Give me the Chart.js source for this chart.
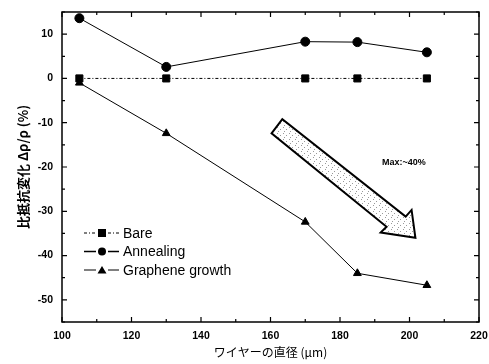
<!DOCTYPE html>
<html>
<head>
<meta charset="utf-8">
<script src="https://cdn.jsdelivr.net/npm/chart.js@4/dist/chart.umd.min.js"></script>
<style>
  html, body { margin: 0; padding: 0; background: #fff; }
  #wrap { width: 489px; height: 364px; }
</style>
</head>
<body>
<div id="wrap"><canvas id="c"></canvas></div>
<script>
const diameters = [105, 130, 170, 185, 205];
const bare = [0, 0, 0, 0, 0];
const annealing = [13.6, 2.6, 8.3, 8.2, 5.9];
const graphene = [-1, -12.4, -32.4, -44.0, -46.7];
const seriesNames = ['Bare', 'Annealing', 'Graphene growth'];
const xTicks = [100, 120, 140, 160, 180, 200, 220];
const yTicks = [-50, -40, -30, -20, -10, 0, 10];
// arrow outline (data units)
const arrowX = [160.3, 163.4, 198.9, 200.6, 201.7, 191.7, 193.4];
const arrowY = [-12.4, -9.2, -31.2, -29.7, -36.0, -34.8, -33.5];

const ctx = document.getElementById('c').getContext('2d');
const tickFont = { family: 'Liberation Sans', size: 10.5, weight: 'bold' };

function pts(ys) {
    return diameters.map((x, i) => ({ x: x, y: ys[i] }));
}

// stipple pattern for the arrow
function stipple() {
    const p = document.createElement('canvas');
    p.width = 6; p.height = 6;
    const g = p.getContext('2d');
    g.fillStyle = '#fff';
    g.fillRect(0, 0, 6, 6);
    g.fillStyle = '#999';
    g.fillRect(1, 1, 1, 1);
    g.fillRect(4, 3, 1, 1);
    g.fillRect(2, 5, 1, 1);
    return ctx.createPattern(p, 'repeat');
}

const frame = {
    id: 'frame',
    afterDraw(chart) {
        const c = chart.ctx, a = chart.chartArea;
        const xs = chart.scales.x, ys = chart.scales.y;
        c.save();
        c.strokeStyle = '#000';
        c.lineWidth = 1.5;
        c.strokeRect(a.left, a.top, a.right - a.left, a.bottom - a.top);
        c.lineWidth = 1.2;
        c.beginPath();
        for (let v = 100; v <= 220; v += 10) {
            const px = xs.getPixelForValue(v);
            const len = v % 20 === 0 ? 5 : 3;
            c.moveTo(px, a.bottom); c.lineTo(px, a.bottom - len);
            c.moveTo(px, a.top); c.lineTo(px, a.top + len);
        }
        for (let v = -55; v <= 15; v += 5) {
            const py = ys.getPixelForValue(v);
            const len = v % 10 === 0 ? 5 : 3;
            c.moveTo(a.left, py); c.lineTo(a.left + len, py);
            c.moveTo(a.right, py); c.lineTo(a.right - len, py);
        }
        c.stroke();

        // arrow
        c.beginPath();
        arrowX.forEach((x, i) => {
            const px = xs.getPixelForValue(x), py = ys.getPixelForValue(arrowY[i]);
            if (i === 0) c.moveTo(px, py); else c.lineTo(px, py);
        });
        c.closePath();
        c.fillStyle = stipple();
        c.fill();
        c.lineWidth = 2;
        c.lineJoin = 'miter';
        c.stroke();

        c.fillStyle = '#000';
        c.font = 'bold 9px "Liberation Sans"';
        c.textAlign = 'left';
        c.textBaseline = 'middle';
        c.fillText('Max:~40%', 382, 163);

        // legend
        const ds = chart.data.datasets;
        c.font = '14px "Liberation Sans"';
        ds.forEach((d, i) => {
            const y = 233 + i * 18.5;
            c.save();
            c.strokeStyle = '#000';
            c.lineWidth = i === 1 ? 1.6 : 1;
            c.setLineDash(d.borderDash || []);
            c.beginPath();
            c.moveTo(84, y); c.lineTo(96, y);
            c.moveTo(108, y); c.lineTo(119, y);
            c.stroke();
            c.restore();
            c.fillStyle = '#000';
            c.beginPath();
            if (d.pointStyle === 'rect') {
                c.fillRect(98, y - 4, 8, 8);
            } else if (d.pointStyle === 'circle') {
                c.arc(102, y, 4, 0, Math.PI * 2);
                c.fill();
            } else {
                c.moveTo(102, y - 4); c.lineTo(106.5, y + 3.5); c.lineTo(97.5, y + 3.5);
                c.closePath(); c.fill();
            }
            c.fillText(d.label, 123, y + 1);
        });
        c.restore();
    }
};

new Chart(ctx, {
    type: 'line',
    data: {
        datasets: [{
            label: seriesNames[0],
            data: pts(bare),
            borderColor: '#000',
            backgroundColor: '#000',
            borderWidth: 1,
            borderDash: [3, 2, 1, 2],
            pointStyle: 'rect',
            pointRadius: 5,
        }, {
            label: seriesNames[1],
            data: pts(annealing),
            borderColor: '#000',
            backgroundColor: '#000',
            borderWidth: 1,
            pointStyle: 'circle',
            pointRadius: 4.5,
        }, {
            label: seriesNames[2],
            data: pts(graphene),
            borderColor: '#000',
            backgroundColor: '#000',
            borderWidth: 1,
            pointStyle: 'triangle',
            pointRadius: 4.5,
        }]
    },
    options: {
        responsive: true,
        maintainAspectRatio: false,
        animation: false,
        layout: { padding: { top: 12, right: 10, left: 15, bottom: 0 } },
        scales: {
            x: {
                type: 'linear',
                min: 100,
                max: 220,
                afterBuildTicks: s => { s.ticks = xTicks.map(v => ({ value: v })); },
                afterFit: s => { s.height = 42; s.paddingLeft = 0; s.paddingRight = 0; },
                grid: { display: false, drawTicks: false },
                border: { display: false },
                ticks: { color: '#000', font: tickFont, padding: 8 },
                title: {
                    display: true,
                    text: 'ワイヤーの直径 (μm)',
                    color: '#000',
                    font: { family: 'Noto Sans CJK JP', size: 12 },
                    padding: { top: 0, bottom: 4 }
                }
            },
            y: {
                min: -55,
                max: 15,
                afterBuildTicks: s => { s.ticks = yTicks.map(v => ({ value: v })); },
                afterFit: s => { s.width = 47; s.paddingTop = 0; s.paddingBottom = 0; },
                grid: { display: false, drawTicks: false },
                border: { display: false },
                ticks: { color: '#000', font: tickFont, padding: 9 },
                title: {
                    display: true,
                    text: '比抵抗変化 Δρ/ρ (%)',
                    color: '#000',
                    font: { family: 'Noto Sans CJK JP', size: 13, weight: 'bold' },
                    padding: { top: 0, bottom: 3 }
                }
            }
        },
        plugins: {
            legend: { display: false },
            tooltip: { enabled: false }
        }
    },
    plugins: [frame]
});
</script>
</body>
</html>
